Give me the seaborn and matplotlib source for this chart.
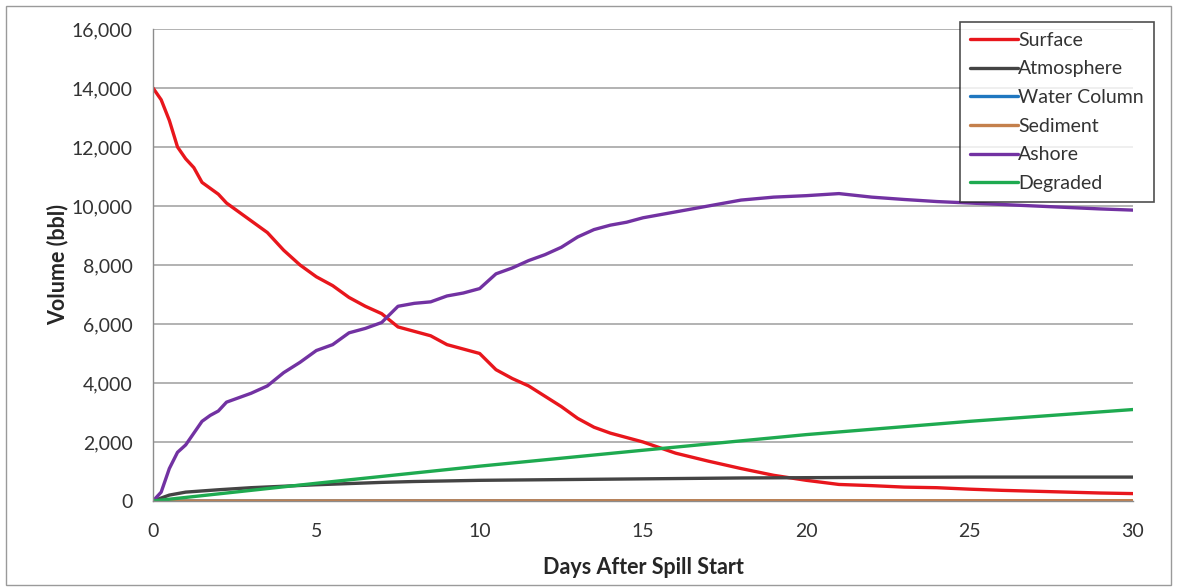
import matplotlib
matplotlib.use("Agg")
import matplotlib.pyplot as plt
from matplotlib.ticker import MultipleLocator, FuncFormatter
from matplotlib.patches import Rectangle
import pandas as pd
import seaborn as sns

# Oil fate volumes (bbl)
surface_days = [0, 0.25, 0.5, 0.75, 1, 1.25, 1.5, 1.75, 2, 2.25, 2.5, 2.75, 3, 3.5, 4, 4.5,
                5, 5.5, 6, 6.5, 7, 7.5, 8, 8.5, 9, 9.5, 10, 10.5, 11, 11.5, 12, 12.5, 13,
                13.5, 14, 14.5, 15, 16, 17, 18, 19, 20, 21, 22, 23, 24, 25, 26, 27, 28, 29, 30]
surface_vol = [14000, 13600, 12900, 12000, 11600, 11300, 10800, 10600, 10400, 10100, 9900,
               9700, 9500, 9100, 8500, 8000, 7600, 7300, 6900, 6600, 6350, 5900, 5750, 5600,
               5300, 5150, 5000, 4450, 4150, 3900, 3550, 3200, 2800, 2500, 2300, 2150, 2000,
               1620, 1350, 1100, 870, 700, 560, 520, 470, 450, 400, 360, 330, 300, 270, 250]

ashore_days = surface_days
ashore_vol = [0, 300, 1100, 1650, 1900, 2300, 2700, 2900, 3050, 3350, 3450, 3550, 3650, 3900,
              4350, 4700, 5100, 5300, 5700, 5850, 6050, 6600, 6700, 6750, 6950, 7050, 7200,
              7700, 7900, 8150, 8350, 8600, 8950, 9200, 9350, 9450, 9600, 9800, 10000, 10200,
              10300, 10350, 10420, 10300, 10220, 10150, 10100, 10050, 10000, 9950, 9900, 9860]

atmos_days = [0, 0.5, 1, 2, 3, 4, 5, 6, 7, 8, 9, 10, 12, 14, 16, 18, 20, 22, 25, 30]
atmos_vol = [0, 200, 300, 380, 450, 500, 550, 590, 630, 660, 680, 700, 720, 740, 760, 780,
             790, 800, 810, 810]

degraded_days = [0, 5, 10, 15, 20, 25, 30]
degraded_vol = [0, 600, 1180, 1720, 2250, 2700, 3100]

water_days = [0, 10, 20, 30]
water_vol = [0, 2, 3, 4]

sediment_days = [0, 10, 20, 30]
sediment_vol = [0, 5, 8, 10]

components = ["Surface", "Atmosphere", "Water Column", "Sediment", "Ashore", "Degraded"]
colors = {"Surface": "#e8161c", "Atmosphere": "#444444", "Water Column": "#1f77c0",
          "Sediment": "#c4804c", "Ashore": "#7232a2", "Degraded": "#1eaa50"}

series = {
    "Surface": (surface_days, surface_vol),
    "Atmosphere": (atmos_days, atmos_vol),
    "Water Column": (water_days, water_vol),
    "Sediment": (sediment_days, sediment_vol),
    "Ashore": (ashore_days, ashore_vol),
    "Degraded": (degraded_days, degraded_vol),
}
df = pd.concat([pd.DataFrame({"day": d, "volume": v, "component": name})
                for name, (d, v) in series.items()], ignore_index=True)

sns.set_style("white")
plt.rcParams["font.family"] = ["Lato", "DejaVu Sans"]

fig = plt.figure(figsize=(11.77, 5.88), dpi=100)
ax = fig.add_axes([0.130, 0.148, 0.8326, 0.8027])

# series drawn in listed order, later ones on top
for name in components:
    sub = df[df["component"] == name]
    sns.lineplot(data=sub, x="day", y="volume", color=colors[name], linewidth=2.4,
                 ax=ax, label=name, estimator=None, sort=False)

ax.set_xlim(0, 30)
ax.set_ylim(0, 16000)
ax.xaxis.set_major_locator(MultipleLocator(5))
ax.xaxis.set_minor_locator(MultipleLocator(1))
ax.yaxis.set_major_locator(MultipleLocator(2000))
ax.yaxis.set_minor_locator(MultipleLocator(400))
ax.yaxis.set_major_formatter(FuncFormatter(lambda v, p: f"{int(v):,}"))
ax.grid(axis="y", which="major", color="#a6a6a6", linewidth=1.2)
ax.set_axisbelow(True)

for s in ["top", "right"]:
    ax.spines[s].set_visible(False)
for s in ["left", "bottom"]:
    ax.spines[s].set_color("#8c8c8c")
    ax.spines[s].set_linewidth(1.0)

ax.tick_params(axis="both", which="major", direction="out", length=5, color="#8c8c8c",
               labelsize=14, labelcolor="#333333")
ax.tick_params(axis="both", which="minor", direction="out", length=3, color="#8c8c8c")
ax.tick_params(axis="y", which="both", direction="inout", pad=12)
ax.tick_params(axis="x", which="major", pad=11)

ax.set_xlabel("Days After Spill Start", fontsize=15.5, fontweight="bold", labelpad=12)
ax.set_ylabel("Volume (bbl)", fontsize=15.5, fontweight="bold", labelpad=2)

handles, labels = ax.get_legend_handles_labels()
leg = ax.legend(handles, labels,
                loc="upper left", bbox_to_anchor=(0.8156, 0.9626),
                bbox_transform=fig.transFigure, fontsize=14, frameon=True,
                fancybox=False, edgecolor="#222222", handlelength=2.5,
                handletextpad=0.0, labelspacing=0.6, borderpad=0.5,
                borderaxespad=0.0)
leg.get_frame().set_linewidth(1.2)
for t in leg.get_texts():
    t.set_color("#333333")

# thin border round the whole picture
fig.patches.append(Rectangle((0.005, 0.005), 0.99, 0.985, transform=fig.transFigure,
                             fill=False, edgecolor="#9a9a9a", linewidth=1.0))

fig.savefig("out.png", dpi=100)
